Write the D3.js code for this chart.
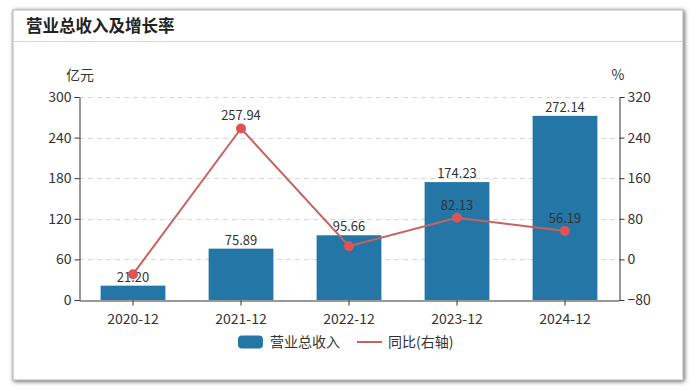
<!DOCTYPE html>
<html>
<head>
<meta charset="utf-8">
<script src="https://cdn.jsdelivr.net/npm/d3@7"></script>
<style>
  html, body { margin: 0; padding: 0; background: #fff; }
  svg { display: block; font-family: "Noto Sans CJK SC", "Noto Sans", sans-serif; }
</style>
</head>
<body>
<svg id="chart" width="700" height="391"></svg>
<script>
var categories = ["2020-12", "2021-12", "2022-12", "2023-12", "2024-12"];
var revenue = [21.20, 75.89, 95.66, 174.23, 272.14];
var yoy = [-29.2, 257.94, 26.05, 82.13, 56.19];
var yoyLabels = [null, "257.94", null, "82.13", "56.19"];
var leftTicks = [0, 60, 120, 180, 240, 300];
var rightTicks = [-80, 0, 80, 160, 240, 320];

var margin = {top: 97, right: 80, bottom: 91, left: 79},
    width = 700,
    height = 391;

var svg = d3.select("svg#chart");

// card with shadow
var defs = svg.append("defs");
var f = defs.append("filter").attr("id", "shadow")
    .attr("x", "-5%").attr("y", "-5%").attr("width", "110%").attr("height", "110%");
f.append("feDropShadow").attr("dx", 1).attr("dy", 1)
    .attr("stdDeviation", 2).attr("flood-color", "#555").attr("flood-opacity", 1);

svg.append("rect")
    .attr("x", 13).attr("y", 10).attr("width", 670).attr("height", 370)
    .attr("fill", "#fff")
    .attr("stroke", "#b5b5b5")
    .attr("stroke-width", 1)
    .attr("filter", "url(#shadow)");

svg.append("text")
    .attr("x", 26).attr("y", 32)
    .attr("font-size", 16.5).attr("font-weight", "bold").attr("fill", "#222")
    .text("营业总收入及增长率");

svg.append("line")
    .attr("x1", 14).attr("x2", 682).attr("y1", 41.5).attr("y2", 41.5)
    .attr("stroke", "#d4d4d4");

var x = d3.scaleBand()
    .domain(categories)
    .range([margin.left, width - margin.right - 1]);

var yL = d3.scaleLinear().domain([0, 300]).range([height - margin.bottom, margin.top]);
var yR = d3.scaleLinear().domain([-80, 320]).range([height - margin.bottom, margin.top]);

// grid
svg.append("g")
    .selectAll("line")
    .data(leftTicks.slice(1))
    .join("line")
    .attr("x1", margin.left).attr("x2", width - margin.right - 1)
    .attr("y1", d => Math.round(yL(d)) + 0.5).attr("y2", d => Math.round(yL(d)) + 0.5)
    .attr("stroke", "#d8d8d8")
    .attr("stroke-dasharray", "5,4");

// bars
var bw = x.bandwidth() * 0.6;
var cx = i => x(categories[i]) + x.bandwidth() / 2;

svg.append("g")
    .selectAll("rect")
    .data(revenue)
    .join("rect")
    .attr("x", (d, i) => cx(i) - bw / 2)
    .attr("y", d => yL(d))
    .attr("width", bw)
    .attr("height", d => yL(0) - yL(d))
    .attr("fill", "#2376a6");

svg.append("g")
    .selectAll("text")
    .data(revenue)
    .join("text")
    .attr("x", (d, i) => cx(i))
    .attr("y", d => yL(d) - 4)
    .attr("text-anchor", "middle")
    .attr("font-size", 13).attr("fill", "#333")
    .text(d => d.toFixed(2));

// axes
var axisStyle = g => {
    g.selectAll(".domain").attr("stroke", "#333");
    g.selectAll(".tick line").attr("stroke", "#333");
    g.selectAll(".tick text").attr("fill", "#333").attr("font-size", 14)
        .attr("font-family", "\"Noto Sans CJK SC\", sans-serif");
};

svg.append("g")
    .attr("transform", `translate(${margin.left + 0.5},0)`)
    .call(d3.axisLeft(yL).tickValues(leftTicks).tickSize(5).tickSizeOuter(0))
    .call(axisStyle);

svg.append("g")
    .attr("transform", `translate(${width - margin.right - 0.5},0)`)
    .call(d3.axisRight(yR).tickValues(rightTicks).tickSize(5).tickSizeOuter(0))
    .call(axisStyle);

svg.append("g")
    .attr("transform", `translate(0,${height - margin.bottom + 0.5})`)
    .call(d3.axisBottom(x).tickSize(5).tickSizeOuter(0).tickPadding(9))
    .call(axisStyle);

svg.append("text").attr("x", 80).attr("y", 80).attr("text-anchor", "middle")
    .attr("font-size", 14).attr("fill", "#333").text("亿元");
svg.append("text").attr("x", 618).attr("y", 80).attr("text-anchor", "middle")
    .attr("font-size", 14).attr("fill", "#333").text("%");

// yoy line
var pts = yoy.map((v, i) => ({v: v, i: i, label: yoyLabels[i]}));
var line = d3.line()
    .x(d => cx(d.i))
    .y(d => yR(d.v));

svg.append("path")
    .attr("d", line(pts))
    .attr("fill", "none")
    .attr("stroke", "#c8625f")
    .attr("stroke-width", 2);

svg.append("g")
    .selectAll("circle")
    .data(pts)
    .join("circle")
    .attr("cx", d => cx(d.i))
    .attr("cy", d => yR(d.v))
    .attr("r", 5)
    .attr("fill", "#dc5455");

svg.append("g")
    .selectAll("text")
    .data(pts.filter(d => d.label != null))
    .join("text")
    .attr("x", d => cx(d.i))
    .attr("y", d => yR(d.v) - 8)
    .attr("text-anchor", "middle")
    .attr("font-size", 13).attr("fill", "#333")
    .text(d => d.label);

// legend
var lg = svg.append("g").attr("transform", "translate(0,342)");
lg.append("rect").attr("x", 238).attr("y", -6.5).attr("width", 25).attr("height", 13)
    .attr("rx", 4).attr("fill", "#2376a6");
lg.append("text").attr("x", 270).attr("y", 5).attr("font-size", 14).attr("fill", "#333")
    .text("营业总收入");
lg.append("line").attr("x1", 357).attr("x2", 382).attr("y1", 0).attr("y2", 0)
    .attr("stroke", "#c8625f").attr("stroke-width", 2);
lg.append("text").attr("x", 388).attr("y", 5).attr("font-size", 14).attr("fill", "#333")
    .text("同比(右轴)");
</script>
</body>
</html>
